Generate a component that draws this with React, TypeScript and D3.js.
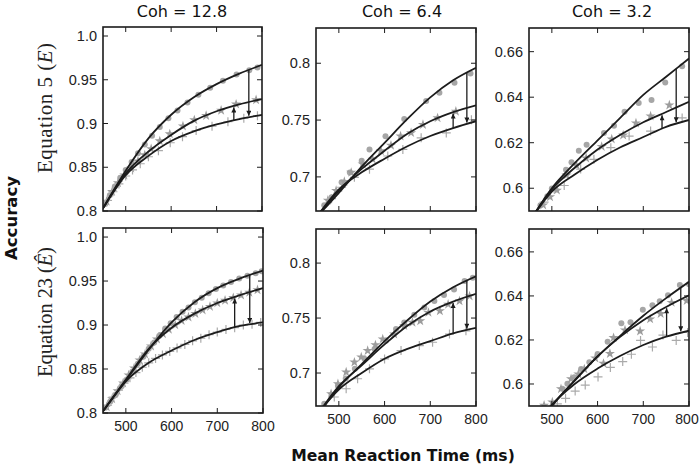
import { useEffect, useRef } from 'react'
import * as d3 from 'd3'

// ── Data ──────────────────────────────────────────────────────────────────────
const RT_GRID = [450, 500, 550, 600, 650, 700, 750, 800]
const X_TICKS = [500, 600, 700, 800]
const COH_TITLES = ['Coh = 12.8', 'Coh = 6.4', 'Coh = 3.2']

const Y_TICKS_128 = [0.8, 0.85, 0.9, 0.95, 1.0]
const Y_LABELS_128 = ['0.8', '0.85', '0.9', '0.95', '1.0']
const Y_TICKS_64 = [0.7, 0.75, 0.8]
const Y_LABELS_64 = ['0.7', '0.75', '0.8']
const Y_TICKS_32 = [0.6, 0.62, 0.64, 0.66]
const Y_LABELS_32 = ['0.6', '0.62', '0.64', '0.66']

// fitted curves, accuracy at RT_GRID (hi = circles, mid = stars, lo = plus)
const E5_128_HI = [0.803, 0.846, 0.883, 0.910, 0.930, 0.945, 0.957, 0.967]
const E5_128_MID = [0.803, 0.843, 0.868, 0.887, 0.903, 0.914, 0.922, 0.928]
const E5_128_LO = [0.803, 0.841, 0.863, 0.880, 0.891, 0.899, 0.905, 0.910]
const E5_64_HI = [0.664, 0.686, 0.709, 0.730, 0.751, 0.770, 0.785, 0.796]
const E5_64_MID = [0.664, 0.688, 0.707, 0.723, 0.738, 0.749, 0.757, 0.763]
const E5_64_LO = [0.664, 0.689, 0.704, 0.716, 0.727, 0.736, 0.743, 0.749]
const E5_32_HI = [0.585, 0.600, 0.611, 0.621, 0.631, 0.641, 0.649, 0.657]
const E5_32_MID = [0.585, 0.5995, 0.609, 0.617, 0.6235, 0.629, 0.6335, 0.638]
const E5_32_LO = [0.585, 0.5985, 0.606, 0.6125, 0.618, 0.6225, 0.627, 0.630]
const E23_128_HI = [0.802, 0.837, 0.872, 0.903, 0.926, 0.942, 0.953, 0.962]
const E23_128_MID = [0.802, 0.838, 0.873, 0.897, 0.913, 0.925, 0.934, 0.942]
const E23_128_LO = [0.802, 0.836, 0.857, 0.871, 0.883, 0.892, 0.899, 0.903]
const E23_64_HI = [0.660, 0.687, 0.708, 0.729, 0.748, 0.765, 0.778, 0.788]
const E23_64_MID = [0.660, 0.688, 0.707, 0.726, 0.743, 0.756, 0.765, 0.772]
const E23_64_LO = [0.661, 0.685, 0.700, 0.713, 0.722, 0.729, 0.736, 0.741]
const E23_32_HI = [0.575, 0.590, 0.6016, 0.6125, 0.622, 0.631, 0.639, 0.6464]
const E23_32_MID = [0.575, 0.590, 0.6015, 0.6125, 0.6215, 0.629, 0.635, 0.6403]
const E23_32_LO = [0.576, 0.5905, 0.600, 0.607, 0.6128, 0.6177, 0.6215, 0.6242]

// observed points [rt, accuracy]
const E5_128_DOTS = [[455, 0.808], [465, 0.818], [476, 0.828], [488, 0.838], [500, 0.847], [513, 0.856], [527, 0.866], [542, 0.876], [558, 0.886], [575, 0.896], [594, 0.906], [614, 0.915], [636, 0.924], [660, 0.933], [686, 0.941], [714, 0.949], [744, 0.956], [772, 0.961], [790, 0.964]]
const E5_128_STARS = [[458, 0.811], [470, 0.822], [483, 0.832], [497, 0.841], [512, 0.849], [527, 0.857], [542, 0.864], [556, 0.871], [575, 0.880], [597, 0.888], [626, 0.897], [651, 0.904], [677, 0.909], [710, 0.915], [743, 0.922], [787, 0.927]]
const E5_128_PLUS = [[460, 0.812], [472, 0.822], [485, 0.831], [500, 0.840], [515, 0.847], [532, 0.854], [550, 0.862], [572, 0.869], [598, 0.878], [625, 0.885], [655, 0.892], [690, 0.897], [725, 0.902], [760, 0.906], [790, 0.909]]
const E5_64_DOTS = [[468, 0.675], [484, 0.6822], [506, 0.6952], [524, 0.7039], [550, 0.7141], [567, 0.7242], [602, 0.7358], [643, 0.7509], [691, 0.7668], [720, 0.7741], [753, 0.7828], [788, 0.7909]]
const E5_64_STARS = [[476, 0.6793], [494, 0.688], [512, 0.6958], [527, 0.7039], [552, 0.7112], [574, 0.7155], [592, 0.7228], [614, 0.7277], [635, 0.7358], [658, 0.7388], [684, 0.746], [716, 0.7518], [756, 0.7576]]
const E5_64_PLUS = [[484, 0.6808], [506, 0.6909], [534, 0.6996], [567, 0.7068], [607, 0.7184], [640, 0.7242], [680, 0.7344], [735, 0.7387], [790, 0.7503]]
const E5_32_DOTS = [[475, 0.5925], [490, 0.5965], [500, 0.5999], [531, 0.6081], [543, 0.6114], [559, 0.6165], [576, 0.6191], [614, 0.6243], [636, 0.6274], [659, 0.6336], [690, 0.6375], [718, 0.6388], [748, 0.6465], [785, 0.6536]]
const E5_32_STARS = [[481, 0.5926], [496, 0.5962], [511, 0.5991], [532, 0.6057], [554, 0.610], [575, 0.6132], [609, 0.6183], [631, 0.6216], [656, 0.6233], [684, 0.6286], [716, 0.6317], [757, 0.6365]]
const E5_32_PLUS = [[483, 0.5939], [505, 0.5997], [527, 0.6012], [563, 0.6084], [592, 0.6127], [629, 0.6178], [669, 0.6229], [716, 0.6251], [785, 0.6309]]
const E23_128_DOTS = [[455, 0.806], [466, 0.813], [478, 0.821], [490, 0.830], [502, 0.838], [514, 0.847], [526, 0.856], [538, 0.864], [550, 0.873], [562, 0.880], [574, 0.888], [586, 0.896], [598, 0.902], [611, 0.909], [624, 0.915], [637, 0.920], [651, 0.926], [666, 0.931], [681, 0.936], [697, 0.941], [713, 0.945], [730, 0.949], [748, 0.953], [766, 0.956], [784, 0.959], [797, 0.961]]
const E23_128_STARS = [[458, 0.807], [470, 0.816], [482, 0.825], [494, 0.834], [506, 0.843], [518, 0.851], [530, 0.860], [542, 0.867], [555, 0.876], [568, 0.884], [581, 0.890], [594, 0.895], [608, 0.900], [622, 0.905], [637, 0.909], [652, 0.913], [668, 0.917], [684, 0.921], [700, 0.925], [717, 0.928], [735, 0.931], [752, 0.934], [770, 0.937], [788, 0.940]]
const E23_128_PLUS = [[460, 0.809], [472, 0.818], [484, 0.826], [496, 0.834], [509, 0.840], [522, 0.846], [536, 0.852], [550, 0.857], [565, 0.862], [580, 0.866], [596, 0.870], [612, 0.874], [629, 0.878], [646, 0.882], [664, 0.885], [682, 0.889], [700, 0.892], [719, 0.895], [738, 0.897], [757, 0.900], [776, 0.901], [795, 0.903]]
const E23_64_DOTS = [[468, 0.672], [484, 0.680], [498, 0.6887], [515, 0.695], [535, 0.7038], [556, 0.713], [578, 0.7219], [603, 0.7294], [625, 0.740], [643, 0.746], [665, 0.753], [687, 0.7596], [709, 0.7656], [730, 0.771], [752, 0.776], [775, 0.7836], [793, 0.7866]]
const E23_64_STARS = [[483, 0.6811], [498, 0.6902], [516, 0.7008], [534, 0.7098], [549, 0.7145], [563, 0.7203], [580, 0.7255], [596, 0.7309], [621, 0.7354], [643, 0.743], [661, 0.746], [678, 0.7474], [696, 0.755], [721, 0.7565], [739, 0.7625], [764, 0.7655], [786, 0.770]]
const E23_64_PLUS = [[490, 0.6782], [516, 0.6857], [541, 0.6948], [567, 0.7038], [600, 0.7128], [636, 0.7204], [676, 0.725], [705, 0.728], [742, 0.7354], [778, 0.7384]]
const E23_32_DOTS = [[523, 0.5978], [534, 0.6001], [549, 0.6031], [564, 0.6068], [582, 0.6099], [600, 0.6136], [622, 0.6192], [652, 0.6276], [672, 0.628], [699, 0.6337], [720, 0.6358], [736, 0.6376], [754, 0.6403], [780, 0.645], [800, 0.6453]]
const E23_32_STARS = [[483, 0.5903], [501, 0.5918], [520, 0.5978], [542, 0.6023], [558, 0.6045], [571, 0.6068], [595, 0.6117], [613, 0.6093], [627, 0.6138], [635, 0.621], [660, 0.6245], [693, 0.624], [715, 0.6295], [738, 0.6319], [762, 0.637], [795, 0.6378]]
const E23_32_PLUS = [[512, 0.591], [530, 0.5935], [551, 0.5968], [573, 0.5995], [601, 0.6032], [628, 0.6075], [655, 0.6102], [674, 0.6135], [694, 0.6198], [720, 0.6168], [743, 0.6222], [772, 0.6198], [797, 0.6234]]

// arrow positions (rt) per panel: up = lo→mid, down = hi→lo
const ARROW_UP_RT = [738, 750, 741, 738, 750, 751]
const ARROW_DOWN_RT = [771, 780, 772, 771, 780, 782]

// ── Layout ────────────────────────────────────────────────────────────────────
const PANELS = [
  { x: 103, y: 27, w: 159, h: 184 },
  { x: 316, y: 28, w: 160, h: 183 },
  { x: 529, y: 28, w: 160, h: 183 },
  { x: 103, y: 228, w: 160, h: 185 },
  { x: 316, y: 229, w: 160, h: 177 },
  { x: 529, y: 229, w: 160, h: 177 },
]
const Y_DOMAINS = [[0.8, 1.0103], [0.67, 0.831], [0.59, 0.6704]]
const TITLE_X = [182, 402, 612]

const FITS = [
  [E5_128_HI, E5_128_MID, E5_128_LO], [E5_64_HI, E5_64_MID, E5_64_LO], [E5_32_HI, E5_32_MID, E5_32_LO],
  [E23_128_HI, E23_128_MID, E23_128_LO], [E23_64_HI, E23_64_MID, E23_64_LO], [E23_32_HI, E23_32_MID, E23_32_LO],
]
const POINTS = [
  [E5_128_DOTS, E5_128_STARS, E5_128_PLUS], [E5_64_DOTS, E5_64_STARS, E5_64_PLUS], [E5_32_DOTS, E5_32_STARS, E5_32_PLUS],
  [E23_128_DOTS, E23_128_STARS, E23_128_PLUS], [E23_64_DOTS, E23_64_STARS, E23_64_PLUS], [E23_32_DOTS, E23_32_STARS, E23_32_PLUS],
]
const Y_TICKS = [Y_TICKS_128, Y_TICKS_64, Y_TICKS_32]
const Y_LABELS = [Y_LABELS_128, Y_LABELS_64, Y_LABELS_32]

const INK = '#1c1c1c'
const SANS = 'DejaVu Sans, sans-serif'
const TICK_FONT = 'Liberation Sans, Arial, sans-serif'
const SERIF = 'Liberation Serif, Times New Roman, serif'

export default function App() {
  const svgRef = useRef<SVGSVGElement>(null)

  useEffect(() => {
    const svg = d3.select(svgRef.current)
    svg.selectAll('*').remove()
    const defs = svg.append('defs')
    defs.append('marker')
      .attr('id', 'ah').attr('viewBox', '0 0 10 10')
      .attr('refX', 10).attr('refY', 5)
      .attr('markerWidth', 6).attr('markerHeight', 5)
      .attr('markerUnits', 'userSpaceOnUse').attr('orient', 'auto')
      .append('path').attr('d', 'M0,0L10,5L0,10z').attr('fill', INK)

    PANELS.forEach((p, i) => {
      const col = i % 3
      const row = Math.floor(i / 3)
      const x = d3.scaleLinear([450, 800], [p.x, p.x + p.w])
      const y = d3.scaleLinear(Y_DOMAINS[col], [p.y + p.h, p.y])

      defs.append('clipPath').attr('id', `clip${i}`)
        .append('rect').attr('x', p.x).attr('y', p.y).attr('width', p.w).attr('height', p.h)

      const g = svg.append('g')
      const inner = g.append('g').attr('clip-path', `url(#clip${i})`)

      // ── observed points ──
      const [dots, stars, plus] = POINTS[i]
      inner.selectAll('.dot').data(dots).join('circle')
        .attr('cx', d => x(d[0])).attr('cy', d => y(d[1])).attr('r', 3)
        .attr('fill', '#a6a6a6')
      inner.selectAll('.star').data(stars).join('path')
        .attr('d', d3.symbol(d3.symbolStar, 32)())
        .attr('transform', d => `translate(${x(d[0])},${y(d[1])})`)
        .attr('fill', '#9c9c9c')
      inner.selectAll('.plus').data(plus).join('path')
        .attr('d', 'M-4.5,0H4.5M0,-4.5V4.5')
        .attr('transform', d => `translate(${x(d[0])},${y(d[1])})`)
        .attr('stroke', '#aaaaaa').attr('stroke-width', 1.2).attr('fill', 'none')

      // ── fitted curves ──
      const line = d3.line<number>()
        .x((_, j) => x(RT_GRID[j])).y(d => y(d))
        .curve(d3.curveMonotoneX)
      FITS[i].forEach(fit => {
        inner.append('path').attr('d', line(fit))
          .attr('fill', 'none').attr('stroke', INK).attr('stroke-width', 1.8)
      })

      // ── arrows ──
      const [hi, mid, lo] = FITS[i].map(f => d3.scaleLinear(RT_GRID, f))
      const ru = ARROW_UP_RT[i]
      const rd = ARROW_DOWN_RT[i]
      g.append('line')
        .attr('x1', x(ru)).attr('x2', x(ru))
        .attr('y1', y(lo(ru))).attr('y2', y(mid(ru)) + 1.5)
        .attr('stroke', INK).attr('stroke-width', 1.3).attr('marker-end', 'url(#ah)')
      g.append('line')
        .attr('x1', x(rd)).attr('x2', x(rd))
        .attr('y1', y(hi(rd))).attr('y2', y(lo(rd)) - 1.5)
        .attr('stroke', INK).attr('stroke-width', 1.3).attr('marker-end', 'url(#ah)')

      // ── ticks (inward, all sides) ──
      const tk = 5
      Y_TICKS[col].forEach(t => {
        g.append('line').attr('x1', p.x).attr('x2', p.x + tk).attr('y1', y(t)).attr('y2', y(t))
          .attr('stroke', INK).attr('stroke-width', 1)
        g.append('line').attr('x1', p.x + p.w).attr('x2', p.x + p.w - tk).attr('y1', y(t)).attr('y2', y(t))
          .attr('stroke', INK).attr('stroke-width', 1)
      })
      X_TICKS.forEach(t => {
        g.append('line').attr('x1', x(t)).attr('x2', x(t)).attr('y1', p.y).attr('y2', p.y + tk)
          .attr('stroke', INK).attr('stroke-width', 1)
        g.append('line').attr('x1', x(t)).attr('x2', x(t)).attr('y1', p.y + p.h).attr('y2', p.y + p.h - tk)
          .attr('stroke', INK).attr('stroke-width', 1)
      })

      // frame
      g.append('rect').attr('x', p.x).attr('y', p.y).attr('width', p.w).attr('height', p.h)
        .attr('fill', 'none').attr('stroke', INK).attr('stroke-width', 1.6)

      // y tick labels
      Y_TICKS[col].forEach((t, k) => {
        g.append('text').attr('x', p.x - 6).attr('y', y(t)).attr('dy', '0.36em')
          .attr('text-anchor', 'end').attr('font-family', TICK_FONT).attr('font-size', 14.5)
          .attr('fill', '#222').text(Y_LABELS[col][k])
      })

      // x tick labels on the bottom row
      if (row === 1) {
        X_TICKS.forEach(t => {
          g.append('text').attr('x', Math.min(x(t), 687)).attr('y', p.y + p.h + 18)
            .attr('text-anchor', 'middle').attr('font-family', TICK_FONT).attr('font-size', 14)
            .attr('fill', '#222').text(String(t))
        })
      } else {
        g.append('text').attr('x', TITLE_X[col]).attr('y', 17)
          .attr('text-anchor', 'middle').attr('font-family', SANS).attr('font-size', 16)
          .attr('fill', '#111').text(COH_TITLES[col])
      }
    })

    // row labels
    const rowLabel = (cx: number, cy: number, num: string, sym: string) => {
      const t = svg.append('text')
        .attr('transform', `translate(${cx},${cy}) rotate(-90)`)
        .attr('text-anchor', 'middle').attr('font-family', SERIF).attr('font-size', 21)
        .attr('textLength', 130).attr('lengthAdjust', 'spacing')
        .attr('fill', '#222')
      t.append('tspan').text(`Equation ${num} (`)
      t.append('tspan').attr('font-style', 'italic').text(sym)
      t.append('tspan').text(')')
    }
    rowLabel(52, 108, '5', 'E')
    rowLabel(52, 312, '23', 'Ê')

    svg.append('text')
      .attr('transform', 'translate(17,218) rotate(-90)')
      .attr('text-anchor', 'middle').attr('font-family', SANS).attr('font-weight', 'bold')
      .attr('font-size', 16.5).attr('fill', '#111').text('Accuracy')

    svg.append('text')
      .attr('x', 403).attr('y', 461)
      .attr('text-anchor', 'middle').attr('font-family', SANS).attr('font-weight', 'bold')
      .attr('font-size', 15.6).attr('fill', '#111').text('Mean Reaction Time (ms)')
  }, [])

  return (
    <div style={{ position: 'absolute', left: 0, top: 0 }}>
      <svg ref={svgRef} width={700} height={468} style={{ display: 'block', background: '#fff' }} />
    </div>
  )
}
